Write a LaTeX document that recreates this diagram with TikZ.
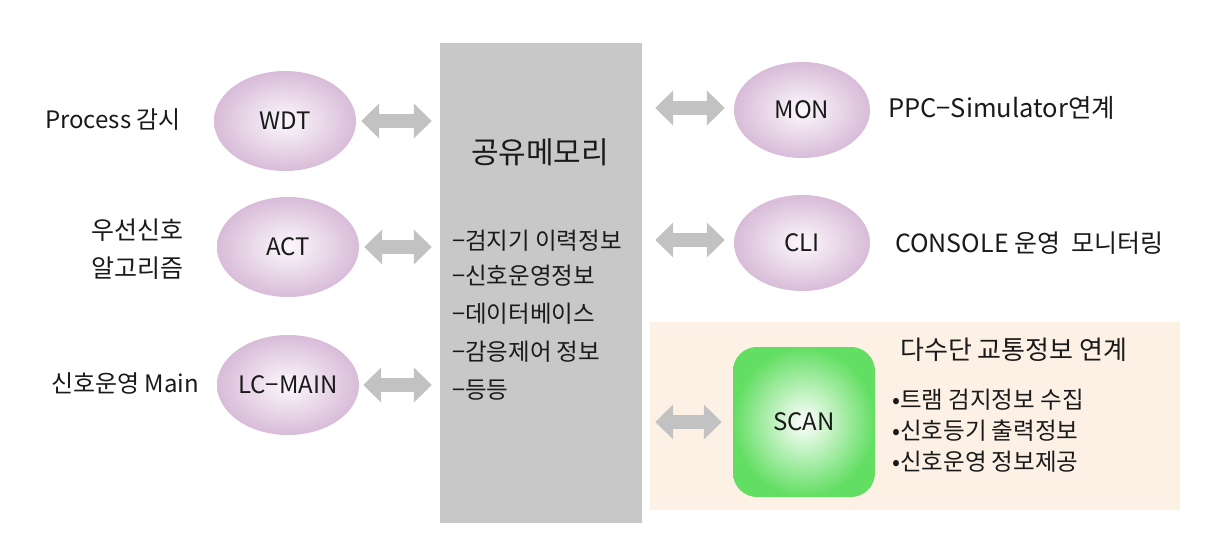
\documentclass[tikz,border=0pt]{standalone}
\usepackage{fontspec}
\setmainfont{Noto Sans CJK KR}
\usetikzlibrary{arrows.meta,shapes.geometric}
\definecolor{memgray}{HTML}{C8C8C8}
\definecolor{pinkedge}{HTML}{D8BCD8}
\definecolor{pinkin}{HTML}{FCF8FC}
\definecolor{peach}{HTML}{FDF1E6}
\definecolor{scangreen}{HTML}{62DE62}
\definecolor{arrowgray}{HTML}{C2C2C2}
\definecolor{txt}{HTML}{1A1A1A}
\tikzset{
  proc/.style={ellipse, inner color=pinkin, outer color=pinkedge, minimum width=142pt, minimum height=100pt, inner sep=0pt, text=txt, font=\fontsize{24}{28}\selectfont},
  procr/.style={proc, minimum width=136pt, minimum height=96pt},
  dbl/.style={draw=arrowgray, line width=14pt, {Triangle[width=34pt,length=18pt]}-{Triangle[width=34pt,length=18pt]}},
  lbl/.style={text=txt, font=\fontsize{24}{38}\selectfont, inner sep=0pt},
  item/.style={lbl, anchor=west, font=\fontsize{23.5}{30}\selectfont},
}
\begin{document}
\begin{tikzpicture}[x=1pt,y=-1pt]
\useasboundingbox[fill=white] (0,0) rectangle (1219,535);
% shared memory
\node[fill=memgray, minimum width=202pt, minimum height=480pt, inner sep=0pt] (mem) at (541,283) {};
\node[lbl, font=\fontsize{30}{34}\selectfont] (memtitle) at (540,152) {공유메모리};
\node[item] (m1) at (452,241) {−검지기 이력정보};
\node[item] (m2) at (452,276) {−신호운영정보};
\node[item] (m3) at (452,314) {−데이터베이스};
\node[item] (m4) at (452,352) {−감응제어 정보};
\node[item] (m5) at (452,390) {−등등};
% zone
\node[fill=peach, minimum width=530pt, minimum height=188pt, inner sep=0pt] (zone) at (915,416) {};
% left processes
\node[proc] (wdt) at (285,121) {WDT};
\node[proc] (act) at (288,247) {ACT};
\node[proc] (lcm) at (288,385) {LC−MAIN};
% right processes
\node[procr] (mon) at (802,110) {MON};
\node[procr] (cli) at (802,243) {CLI};
\node[rounded corners=24pt, minimum width=142pt, minimum height=150pt, inner sep=0pt, inner color=white, outer color=scangreen, text=txt, font=\fontsize{24}{28}\selectfont] (scan) at (804,422) {SCAN};
% labels
\node[lbl] (lwdt) at (113,120) {Process 감시};
\node[lbl, font=\fontsize{25}{38}\selectfont, align=center] (lact) at (137,249) {우선신호\\알고리즘};
\node[lbl] (llcm) at (125,383) {신호운영 Main};
\node[lbl, anchor=west, font=\fontsize{25.5}{30}\selectfont] (lmon) at (888,108) {PPC−Simulator연계};
\node[lbl, anchor=west, font=\fontsize{25}{30}\selectfont] (lcli) at (895,243) {CONSOLE 운영\ \ 모니터링};
\node[lbl, anchor=west, font=\fontsize{26}{30}\selectfont] (lzone) at (900,350) {다수단 교통정보 연계};
\node[lbl, anchor=west, font=\fontsize{23.5}{31}\selectfont, align=left] (lscan) at (892,431) {•트램 검지정보 수집\\•신호등기 출력정보\\•신호운영 정보제공};
% arrows
\draw[dbl] ([xshift=5pt]wdt.east) -- ([xshift=-8pt]wdt.east -| mem.west);
\draw[dbl] ([xshift=5pt]act.east) -- ([xshift=-8pt]act.east -| mem.west);
\draw[dbl] ([xshift=4pt]lcm.east) -- ([xshift=-8pt]lcm.east -| mem.west);
\draw[dbl] ([xshift=13pt,yshift=2pt]mem.east |- mon.west) -- ([xshift=-9pt,yshift=2pt]mon.west);
\draw[dbl] ([xshift=13pt,yshift=3pt]mem.east |- cli.west) -- ([xshift=-9pt,yshift=3pt]cli.west);
\draw[dbl] ([xshift=13pt]mem.east |- scan.west) -- ([xshift=-11pt]scan.west);
\end{tikzpicture}
\end{document}
